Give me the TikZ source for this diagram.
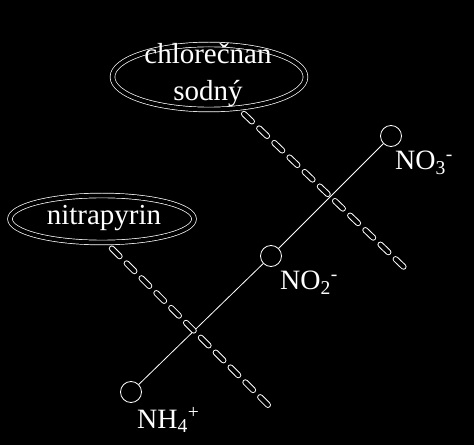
\documentclass[tikz,border=0pt]{standalone}
\usepackage{fontspec}
\setmainfont{Liberation Serif}
\usetikzlibrary{shapes.geometric}
\begin{document}
\begin{tikzpicture}[x=1pt,y=1pt,
    pill/.style={draw=white,ellipse,line width=.7pt,double=black,double distance=4pt,inner sep=0pt},
    site/.style={draw=white,circle,line width=.8pt,minimum size=21pt,inner sep=0pt},
    ion/.style={text=white,inner sep=0pt,font=\fontsize{28}{30}\selectfont},
    inhibit/.style={draw=white,line width=1pt,double=black,double distance=4pt,line cap=round,dash pattern=on 11pt off 10pt,shorten <=8pt}]
    \useasboundingbox (0,0) rectangle (474,445);
    \fill[black] (0,0) rectangle (474,445); % background

    % inhibitors
    \node[pill,minimum width=193pt,minimum height=65pt] (chlor) at (209,368) {};
    \node[ion,align=center,font=\fontsize{29}{37}\selectfont] (chlortext) at (208,370) {chlorečnan\\sodný};
    \node[pill,minimum width=184pt,minimum height=47pt] (nitra) at (102,226) {};
    \node[ion,anchor=base,font=\fontsize{29}{37}\selectfont] (nitratext) at (104,220) {nitrapyrin};

    % nitrification chain
    \node[site] (nh4) at (131,53) {};
    \node[site] (no2) at (271,189) {};
    \node[site] (no3) at (391,309) {};
    \draw[white,line width=.8pt] (nh4) -- (no2) -- (no3);
    \node[ion,anchor=base west] (nh4lab) at (137,17) {NH\textsubscript{4}\textsuperscript{+}};
    \node[ion,anchor=base west] (no2lab) at (280,155) {NO\textsubscript{2}\textsuperscript{-}};
    \node[ion,anchor=base west] (no3lab) at (395,275) {NO\textsubscript{3}\textsuperscript{-}};

    % blocked steps
    \coordinate (chlorend) at (408,174);
    \coordinate (nitraend) at (271,37);
    \draw[inhibit] (chlor.-47) -- (chlorend);
    \draw[inhibit] (nitra.-80) -- (nitraend);
\end{tikzpicture}
\end{document}
